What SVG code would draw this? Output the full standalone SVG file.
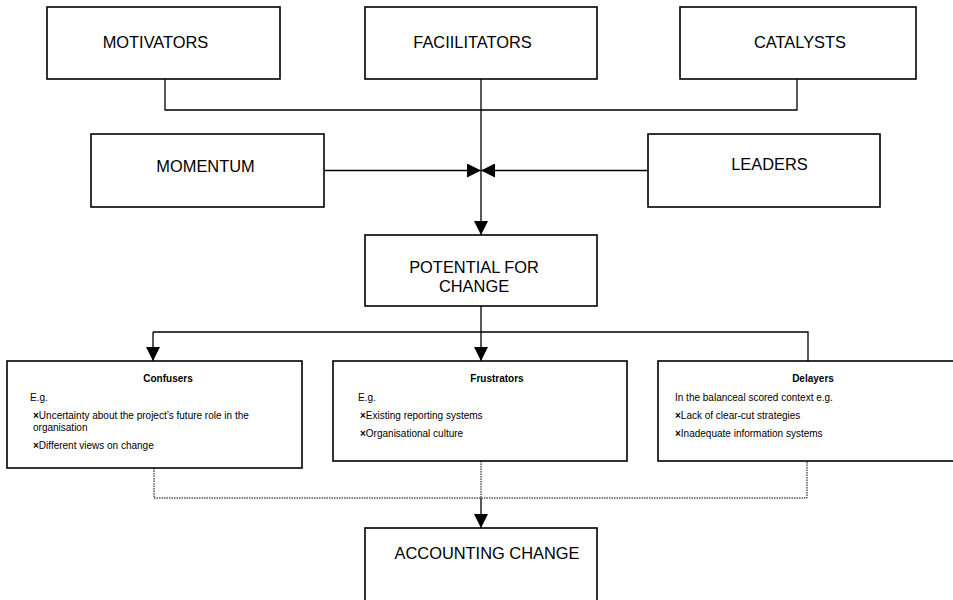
<svg xmlns="http://www.w3.org/2000/svg" width="953" height="600" viewBox="0 0 953 600">
<defs>
<marker id="arr" markerWidth="14" markerHeight="14" refX="14" refY="7" orient="auto" markerUnits="userSpaceOnUse"><path d="M0,0 L14,7 L0,14 Z" fill="#000"/></marker>
<style>
.box{fill:#fff;stroke:#000;stroke-width:1.6}
.t{font-family:"Liberation Sans",Arial,sans-serif;font-size:16.4px;fill:#000;text-anchor:middle}
.h{font-family:"Liberation Sans",Arial,sans-serif;font-size:10px;font-weight:bold;fill:#000;text-anchor:middle}
.s{font-family:"Liberation Sans",Arial,sans-serif;font-size:10px;fill:#000}
.b{font-weight:bold}
.ln{fill:none;stroke:#000;stroke-width:1.3}
.dt{fill:none;stroke:#000;stroke-width:1;stroke-dasharray:1.5,1}
</style>
</defs>
<g id="connectors">
<path class="ln" d="M165,79 V110 H797 V79"/>
<path class="ln" d="M481,79 V170.5"/>
<path class="ln" d="M324,170.5 H481" marker-end="url(#arr)"/>
<path class="ln" d="M648,170.5 H481" marker-end="url(#arr)"/>
<path class="ln" d="M481,170.5 V235" marker-end="url(#arr)"/>
<path class="ln" d="M481,306 V361" marker-end="url(#arr)"/>
<path class="ln" d="M153,332 H808 V361"/>
<path class="ln" d="M153,332 V361" marker-end="url(#arr)"/>
<path class="dt" d="M154,468 V498 H807 V461"/>
<path class="dt" d="M481,461 V498"/>
<path class="ln" d="M481,498 V528" marker-end="url(#arr)"/>
</g>
<g id="motivators"><rect class="box" x="47" y="7" width="233" height="72"/><text class="t" x="155.5" y="47.5">MOTIVATORS</text></g>
<g id="facilitators"><rect class="box" x="365" y="7" width="232" height="72"/><text class="t" x="472.5" y="47.5">FACIILITATORS</text></g>
<g id="catalysts"><rect class="box" x="680" y="7" width="236" height="72"/><text class="t" x="800" y="47.5">CATALYSTS</text></g>
<g id="momentum"><rect class="box" x="91" y="134" width="233" height="73"/><text class="t" x="205.5" y="172">MOMENTUM</text></g>
<g id="leaders"><rect class="box" x="648" y="134" width="232" height="73"/><text class="t" x="769.5" y="170">LEADERS</text></g>
<g id="potential"><rect class="box" x="365" y="235" width="232" height="71"/><text class="t" x="474" y="273">POTENTIAL FOR</text><text class="t" x="474" y="292">CHANGE</text></g>
<g id="confusers"><rect class="box" x="7" y="361" width="295" height="107"/>
<text class="h" x="168" y="382">Confusers</text>
<text class="s" x="30" y="401">E.g.</text>
<text class="s" x="33" y="419"><tspan class="b">×</tspan>Uncertainty about the project’s future role in the</text>
<text class="s" x="33" y="431">organisation</text>
<text class="s" x="33" y="449"><tspan class="b">×</tspan>Different views on change</text>
</g>
<g id="frustrators"><rect class="box" x="333" y="361" width="294" height="100"/>
<text class="h" x="497" y="382">Frustrators</text>
<text class="s" x="358" y="401">E.g.</text>
<text class="s" x="360" y="419"><tspan class="b">×</tspan>Existing reporting systems</text>
<text class="s" x="360" y="437"><tspan class="b">×</tspan>Organisational culture</text>
</g>
<g id="delayers"><rect class="box" x="658" y="361" width="300" height="100"/>
<text class="h" x="813" y="382">Delayers</text>
<text class="s" x="675" y="401">In the balanceal scored context e.g.</text>
<text class="s" x="675" y="419"><tspan class="b">×</tspan>Lack of clear-cut strategies</text>
<text class="s" x="675" y="437"><tspan class="b">×</tspan>Inadequate information systems</text>
</g>
<g id="accounting"><rect class="box" x="365" y="528" width="232" height="80"/><text class="t" x="487" y="559">ACCOUNTING CHANGE</text></g>
</svg>
